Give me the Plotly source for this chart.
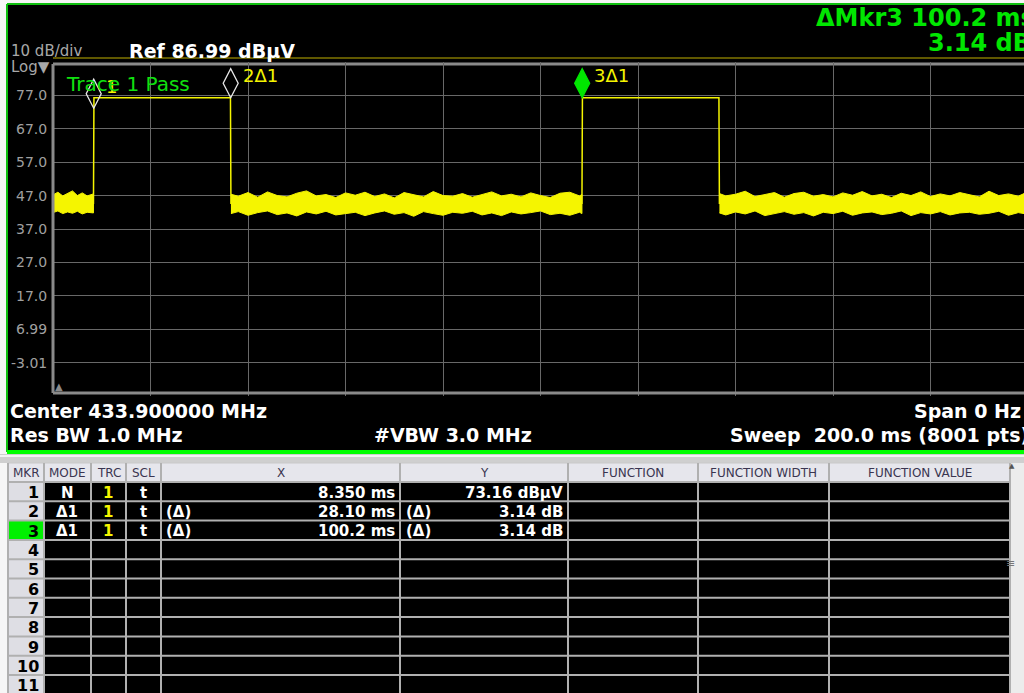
import plotly.graph_objects as go

W, H = 1024, 693

# ---------------- data ----------------
ref_level_dbuv = 86.99
bottom_level_dbuv = -13.01
sweep_ms = 200.0
y_tick_vals = [-3.01, 6.99, 16.99, 26.99, 36.99, 46.99, 56.99, 66.99, 76.99]
y_tick_text = ["-3.01", "6.99", "17.0", "27.0", "37.0", "47.0", "57.0", "67.0", "77.0"]

# pulse outline (time in ms, level in dBuV)
pulse_t_ms = [8.30, 8.40, 36.40, 36.50, None, 108.50, 108.60, 136.60, 136.70]
pulse_dbuv = [44.5, 76.3, 76.3, 44.5, None, 44.5, 76.3, 76.3, 44.5]

# noise floor envelopes (estimated upper / lower edges of the noise band)
noise_a_t = [0, 1, 2, 3, 4, 5, 6, 7, 8.3]
noise_a_hi = [47.2, 48.0, 46.9, 47.6, 48.4, 47.0, 47.8, 46.9, 47.5]
noise_a_lo = [41.9, 42.4, 41.6, 42.1, 41.7, 42.3, 41.5, 42.0, 41.8]

noise_b_t = [36.5, 38, 40, 42, 44, 46, 48, 50, 52, 54, 56, 58, 60, 62, 64, 66, 68, 70, 72,
             74, 76, 78, 80, 82, 84, 86, 88, 90, 92, 94, 96, 98, 100, 102, 104, 106, 108, 108.5]
noise_b_hi = [47.4, 46.8, 47.9, 46.5, 48.1, 47.0, 46.6, 47.7, 48.4, 46.9, 47.3, 46.4, 47.8,
              47.1, 48.0, 46.7, 47.5, 46.3, 47.9, 47.2, 46.6, 48.2, 47.0, 46.8, 47.6, 46.5,
              47.3, 48.1, 46.9, 47.4, 46.6, 47.8, 47.0, 46.4, 47.7, 48.0, 46.9, 47.3]
noise_b_lo = [41.6, 42.2, 41.1, 41.9, 42.4, 41.3, 41.8, 40.9, 42.1, 41.5, 42.3, 41.2, 41.7,
              42.0, 41.0, 41.8, 42.4, 41.4, 41.9, 40.8, 42.2, 41.6, 41.1, 42.0, 41.7, 42.3,
              41.2, 41.8, 41.0, 42.1, 41.5, 41.9, 42.4, 41.3, 41.7, 41.1, 42.0, 41.6]

noise_c_t = [136.7, 138, 140, 142, 144, 146, 148, 150, 152, 154, 156, 158, 160, 162, 164, 166,
             168, 170, 172, 174, 176, 178, 180, 182, 184, 186, 188, 190, 192, 194, 196, 198, 199.2]
noise_c_hi = [47.6, 46.9, 47.4, 48.3, 46.7, 47.2, 47.9, 46.5, 47.6, 48.0, 46.8, 47.3, 46.6,
              47.8, 47.1, 48.2, 46.9, 47.4, 46.4, 47.7, 47.0, 48.1, 46.7, 47.5, 46.9, 47.9,
              47.2, 46.6, 48.3, 47.0, 47.5, 46.8, 47.6]
noise_c_lo = [41.8, 41.2, 42.1, 41.5, 42.4, 41.0, 41.7, 42.2, 41.4, 41.9, 40.9, 42.0, 41.6,
              42.3, 41.1, 41.8, 42.1, 41.3, 41.7, 42.4, 41.0, 41.9, 41.5, 42.2, 41.2, 41.8,
              42.0, 41.4, 41.7, 42.3, 41.1, 41.9, 41.6]

# markers
mkr_t_ms = [8.35, 36.45, 108.55]
mkr_dbuv = [73.16, 76.30, 76.30]
mkr_labels = ["1", "2\u03941", "3\u03941"]
mkr_active = [False, False, True]

# marker table
table_headers = ["MKR", "MODE", "TRC", "SCL", "X", "Y", "FUNCTION", "FUNCTION WIDTH", "FUNCTION VALUE"]
table_rows = list(range(1, 12))
tbl_mode = ["N", "\u03941", "\u03941"]
tbl_trc = ["1", "1", "1"]
tbl_scl = ["t", "t", "t"]
tbl_x_prefix = ["", "(\u0394)", "(\u0394)"]
tbl_x = ["8.350 ms", "28.10 ms", "100.2 ms"]
tbl_y_prefix = ["", "(\u0394)", "(\u0394)"]
tbl_y = ["73.16 dB\u00b5V", "3.14 dB", "3.14 dB"]

# ---------------- figure ----------------
FONT = "DejaVu Sans"
YEL = "#f5f500"
GRN = "#00e600"


def px(x):
    return x / W


def py(y):
    return 1 - y / H


shapes = []
ann = []


def rect(x0, y0, x1, y1, fill, layer="below", lc=None, lw=0):
    shapes.append(dict(type="rect", xref="paper", yref="paper", x0=px(x0), x1=px(x1),
                       y0=py(y1), y1=py(y0), fillcolor=fill, layer=layer,
                       line=dict(color=lc or fill, width=lw)))


def line(x0, y0, x1, y1, color, width, layer="below"):
    shapes.append(dict(type="line", xref="paper", yref="paper", x0=px(x0), x1=px(x1),
                       y0=py(y0), y1=py(y1), layer=layer, line=dict(color=color, width=width)))


def text(s, x, y, size, color, xanchor="left", bold=False, family=FONT):
    ann.append(dict(text=("<b>%s</b>" % s) if bold else s, x=px(x), y=py(y), xref="paper",
                    yref="paper", xanchor=xanchor, yanchor="middle", showarrow=False,
                    font=dict(family=family, size=size, color=color)))


# screen background
rect(7, 4, W + 2, 452, "black")
line(7, 4, W + 2, 4, "#10c010", 2)
line(7, 4, 7, 452, "#10c010", 2)
rect(7, 450, W + 2, 454, "#00ff00")
rect(0, 454, W + 2, 463, "#cfcfcf")
line(0, 456, W + 2, 456, "#f4f4f4", 2)

# frame of graticule
x_left = 53
y_top = 62
y_bot = 396
line(x_left, 58, W + 2, 58, "#c0b000", 1)
line(x_left, 64, W + 2, 64, "#8a8a8a", 3)
line(x_left, 64, x_left, 393, "#8a8a8a", 3, layer="above")
line(x_left, 393, W + 2, 393, "#8a8a8a", 3, layer="above")

fig = go.Figure()


def band(t, hi, lo):
    fig.add_trace(go.Scatter(x=t + t[::-1], y=hi + lo[::-1], fill="toself", fillcolor=YEL,
                             mode="lines", line=dict(color=YEL, width=1), hoverinfo="skip",
                             showlegend=False))


band(noise_a_t, noise_a_hi, noise_a_lo)
band(noise_b_t, noise_b_hi, noise_b_lo)
band(noise_c_t, noise_c_hi, noise_c_lo)

fig.add_trace(go.Scatter(x=pulse_t_ms, y=pulse_dbuv, mode="lines",
                         line=dict(color=YEL, width=1.5), showlegend=False, hoverinfo="skip"))

# markers (diamonds anchored on the trace point)
for t, v, lab, act in zip(mkr_t_ms, mkr_dbuv, mkr_labels, mkr_active):
    shapes.append(dict(type="path", xref="x", yref="y", xsizemode="pixel", ysizemode="pixel",
                       xanchor=t, yanchor=v, path="M 0 0 L 7.5 14.5 L 0 29 L -7.5 14.5 Z",
                       fillcolor=GRN if act else "rgba(0,0,0,0)", layer="above",
                       line=dict(color=GRN if act else "#e8e8e8", width=1.3)))
    ann.append(dict(text=lab, x=t, y=v, xref="x", yref="y", xanchor="left", yanchor="middle",
                    xshift=10, yshift=22, showarrow=False,
                    font=dict(family=FONT, size=18, color=YEL)))

# y tick labels
for v, s in zip(y_tick_vals, y_tick_text):
    ann.append(dict(text=s, x=px(49), y=v, xref="paper", yref="y", xanchor="right",
                    yanchor="middle", showarrow=False,
                    font=dict(family=FONT, size=14, color="#a0a0a0")))

# header texts
text("10 dB/div", 9, 51, 15, "#a8a8a8")
text("Log\u25bc", 9, 67, 15, "#a8a8a8")
text("Ref 86.99 dB\u00b5V", 127, 51, 19, "white", bold=True)
text("\u0394Mkr3 100.2 ms", 814, 18, 24, GRN, bold=True)
text("3.14 dB", 926, 43, 24, GRN, bold=True)
text("Trace 1 Pass", 64, 84, 20, "#10e010")
ann.append(dict(text="\u25b2", x=px(53), y=py(386), xref="paper", yref="paper",
                showarrow=False, font=dict(family=FONT, size=10, color="#8a8a8a")))

# bottom info
text("Center 433.900000 MHz", 8, 411, 19, "white", bold=True)
text("Res BW 1.0 MHz", 8, 435, 19, "white", bold=True)
text("#VBW 3.0 MHz", 372, 435, 19, "white", bold=True)
text("Span 0 Hz", 1023, 411, 19, "white", xanchor="right", bold=True)
text("Sweep\u00a0\u00a0200.0 ms (8001 pts)", 728, 435, 19, "white", bold=True)

# ---------------- marker table ----------------
col_edges = [8, 44, 91, 126, 161, 400, 568, 698, 829, 1010]
hdr_top, hdr_bot = 463, 482
row_h = 19.3
rect(8, hdr_top, 1010, hdr_bot, "#e6e6ec")
rect(44, hdr_bot, 1010, H + 2, "black")
rect(8, hdr_bot, 44, H + 2, "#dedee4")
rect(8, hdr_bot + 2 * row_h, 44, hdr_bot + 3 * row_h, "#00f000")
rect(1010, hdr_top, W + 2, H + 2, "#ececec")
for k in range(0, len(table_rows) + 1):
    yy = hdr_bot + k * row_h
    line(8, yy, 1010, yy, "#b0b0b0", 2)
line(8, hdr_top, 1010, hdr_top, "#c8c8c8", 1)
for xe in col_edges:
    line(xe, hdr_top, xe, H + 2, "#b0b0b0", 2)
ann.append(dict(text="\u25b2", x=px(1017), y=py(472), xref="paper", yref="paper",
                showarrow=False, font=dict(family=FONT, size=7, color="#555")))
ann.append(dict(text="\u2261", x=px(1017), y=py(572), xref="paper", yref="paper",
                showarrow=False, font=dict(family=FONT, size=11, color="#777")))

for i, h in enumerate(table_headers):
    cx = (col_edges[i] + col_edges[i + 1]) / 2
    text(h, cx, (hdr_top + hdr_bot) / 2 + 0.5, 12, "#3a3550", xanchor="center")


def row_y(r):
    return hdr_bot + row_h * (r + 0.5) + 1


for r, n in enumerate(table_rows):
    text(str(n), 41, row_y(r), 16, "black", xanchor="right", bold=True)

for r in range(len(tbl_mode)):
    yy = row_y(r)
    text(tbl_mode[r], 67, yy, 15, "white", xanchor="center", bold=True)
    text(tbl_trc[r], 108, yy, 15, YEL, xanchor="center", bold=True)
    text(tbl_scl[r], 143, yy, 15, "white", xanchor="center", bold=True)
    if tbl_x_prefix[r]:
        text(tbl_x_prefix[r], 164, yy, 15, "white", bold=True)
    text(tbl_x[r], 397, yy, 15, "white", xanchor="right", bold=True)
    if tbl_y_prefix[r]:
        text(tbl_y_prefix[r], 404, yy, 15, "white", bold=True)
    text(tbl_y[r], 565, yy, 15, "white", xanchor="right", bold=True)

x_max = (W - x_left) * sweep_ms / 975.0

fig.update_layout(
    width=W, height=H, margin=dict(l=0, r=0, t=0, b=0, pad=0),
    paper_bgcolor="#f6f6f6", plot_bgcolor="black",
    shapes=shapes, annotations=ann, showlegend=False,
    xaxis=dict(domain=[px(x_left), 1.0], range=[0, x_max], showgrid=True, gridcolor="#686868",
               gridwidth=1, tick0=0, dtick=20, showticklabels=False, ticks="", zeroline=False,
               showline=False, fixedrange=True),
    yaxis=dict(domain=[py(y_bot), py(y_top)], range=[bottom_level_dbuv, ref_level_dbuv],
               tickvals=y_tick_vals, showgrid=True, gridcolor="#686868", gridwidth=1,
               showticklabels=False, ticks="", zeroline=False, showline=False, fixedrange=True),
)

fig.write_html(
    "out.html",
    config={"displayModeBar": False},
    post_script="document.body.style.margin='0px';document.body.style.overflow='hidden';",
)
